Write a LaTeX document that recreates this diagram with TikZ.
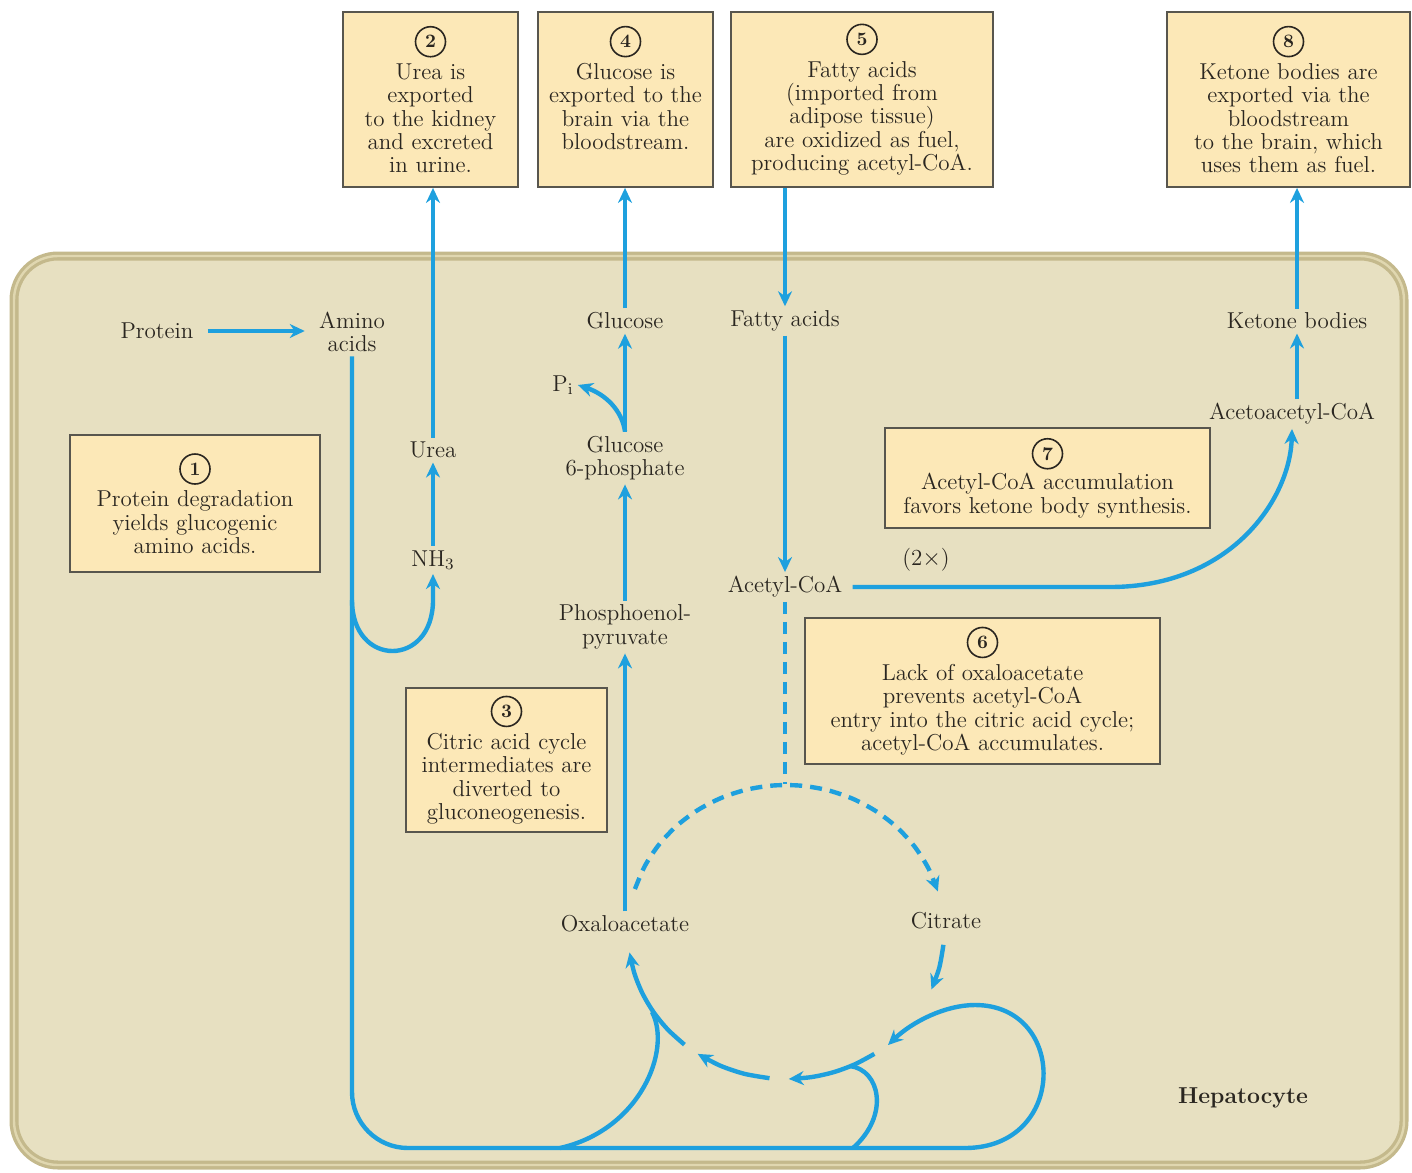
\documentclass[tikz,border=0pt]{standalone}
\usepackage{amsmath}
\usetikzlibrary{positioning}
\usetikzlibrary{calc}
\usetikzlibrary{arrows.meta}

\definecolor{flowblue}{RGB}{30,160,222}
\definecolor{cellfill}{RGB}{231,224,193}
\definecolor{cellrim}{RGB}{196,185,140}
\definecolor{cellrimlight}{RGB}{224,215,176}
\definecolor{notefill}{RGB}{252,232,183}
\definecolor{notedraw}{RGB}{88,86,78}
\definecolor{inktext}{RGB}{42,38,32}

\newcommand{\labelfont}{\fontsize{11.5}{11.7}\selectfont}
\newcommand{\stepnum}[1]{\tikz[baseline=(n.base)]\node[circle, draw=inktext, fill=none, line width=0.8pt, inner sep=0pt, minimum size=15pt, text width={}, font=\fontsize{9.5}{9.5}\selectfont\bfseries] (n) {#1};}

\tikzset{
  flow/.style={draw=flowblue, line width=2.2pt, -{Stealth[length=7.5pt, width=7pt]}},
  link/.style={draw=flowblue, line width=2.2pt},
  cycledash/.style={dash pattern=on 6pt off 4pt},
  lbl/.style={text=inktext, font=\labelfont, align=center, inner sep=2pt},
  note/.style={draw=notedraw, fill=notefill, line width=0.9pt, text=inktext, font=\labelfont, align=center, inner sep=2pt},
}

\begin{document}
\begin{tikzpicture}[x=0.5pt, y=-0.5pt]
  \useasboundingbox (0,0) rectangle (1412,1172);

  % the cell
  \draw[cellrim, line width=4.5pt, fill=cellfill, rounded corners=22pt] (14,256) rectangle (1404,1165);
  \draw[cellrimlight, line width=1.2pt, rounded corners=22pt] (14,256) rectangle (1404,1165);

  % metabolites
  \node[lbl] (protein) at (157,331) {Protein};
  \node[lbl] (amino_acids) at (352,332) {Amino\\acids};
  \node[lbl] (urea) at (433,450) {Urea};
  \node[lbl] (nh_3) at (433,560) {NH$_3$};
  \node[lbl] (glucose) at (625,321) {Glucose};
  \node[lbl] (p_i) at (563,385) {P$_\mathrm{i}$};
  \node[lbl] (glucose_6p) at (625,458) {Glucose\\6-phosphate};
  \node[lbl] (pep) at (625,627) {Phosphoenol-\\pyruvate};
  \node[lbl] (oxaloacetate) at (625,924) {Oxaloacetate};
  \node[lbl] (citrate) at (946,921) {Citrate};
  \node[lbl] (fatty_acids) at (785,321) {Fatty acids};
  \node[lbl] (acetyl_coa) at (785,587) {Acetyl-CoA};
  \node[lbl] (two_x) at (926,560) {(2$\times$)};
  \node[lbl] (acetoacetyl_coa) at (1292,414) {Acetoacetyl-CoA};
  \node[lbl] (ketone_bodies) at (1297,321) {Ketone bodies};
  \node[lbl, font=\labelfont\bfseries] (hepatocyte) at (1243,1098) {Hepatocyte};

  % notes
  \node[note, text width=121pt, minimum height=68.5pt] (box_1) at (195,503.5) {\stepnum{1}\\[2pt]Protein degradation\\yields glucogenic\\amino acids.};
  \node[note, text width=83.5pt, minimum height=87.5pt] (box_2) at (430.5,99.5) {\stepnum{2}\\[2pt]Urea is\\exported\\to the kidney\\and excreted\\in urine.};
  \node[note, text width=83.5pt, minimum height=87.5pt] (box_4) at (625.5,99.5) {\stepnum{4}\\[2pt]Glucose is\\exported to the\\brain via the\\bloodstream.\\\mbox{}};
  \node[note, text width=127pt, minimum height=87.5pt] (box_5) at (862,99.5) {\stepnum{5}\\[2pt]Fatty acids\\(imported from\\adipose tissue)\\are oxidized as fuel,\\producing acetyl-CoA.};
  \node[note, text width=117.5pt, minimum height=87.5pt] (box_8) at (1288.5,99.5) {\stepnum{8}\\[2pt]Ketone bodies are\\exported via the\\bloodstream\\to the brain, which\\uses them as fuel.};
  \node[note, text width=158.5pt, minimum height=50pt] (box_7) at (1047.5,478) {\stepnum{7}\\[1pt]Acetyl-CoA accumulation\\favors ketone body synthesis.};
  \node[note, text width=96.5pt, minimum height=72pt] (box_3) at (506.5,760) {\stepnum{3}\\[2pt]Citric acid cycle\\intermediates are\\diverted to\\gluconeogenesis.};
  \node[note, text width=173.5pt, minimum height=73pt] (box_6) at (982.5,691) {\stepnum{6}\\[2pt]Lack of oxaloacetate\\prevents acetyl-CoA\\entry into the citric acid cycle;\\acetyl-CoA accumulates.};

  \coordinate (aa_fork) at (352,600);
  \coordinate (bottom_left) at (352,1148);
  \coordinate (bottom_right) at (965,1148);
  \coordinate (oxa_fork) at (560,1148);
  \coordinate (mid_fork) at (853,1148);
  \coordinate (cycle_top) at (785,784);

  % protein and urea
  \draw[flow, shorten <=5pt, shorten >=5pt] (protein.east) -- (protein.east -| amino_acids.west);
  \draw[link, rounded corners=28pt] (amino_acids.south) -- (bottom_left) -- (bottom_right);
  \draw[flow] (aa_fork) .. controls (352,668) and (433,668) .. (433,600) -- (nh_3);
  \draw[flow] (nh_3) -- (urea);
  \draw[flow] (urea) -- (urea |- box_2.south);

  % gluconeogenesis
  \draw[flow] (oxaloacetate) -- (pep);
  \draw[flow] (pep) -- (glucose_6p);
  \draw[flow] (glucose_6p) -- (glucose);
  \draw[flow] (glucose_6p.north) .. controls (622,410) and (605,394) .. (p_i.east);
  \draw[flow] (glucose) -- (glucose |- box_4.south);

  % fatty acids and ketone bodies
  \draw[flow] (box_5.south -| fatty_acids) -- (fatty_acids);
  \draw[flow] (fatty_acids) -- (acetyl_coa);
  \draw[link, cycledash] (acetyl_coa) -- (cycle_top);
  \draw[flow, shorten <=3pt] (acetyl_coa.east) -- (1110,587) .. controls (1230,587) and (1290,500) .. (acetoacetyl_coa.south);
  \draw[flow] (acetoacetyl_coa.north -| ketone_bodies) -- (ketone_bodies);
  \draw[flow] (ketone_bodies) -- (ketone_bodies |- box_8.south);

  % citric acid cycle
  \draw[flow, cycledash] plot[smooth, domain=197:344, samples=16, variable=\t] ({786+158*cos(\t)}, {932+147*sin(\t)});
  \draw[flow] plot[smooth, domain=5:23, samples=3, variable=\t] ({786+158*cos(\t)}, {932+147*sin(\t)});
  \draw[flow] plot[smooth, domain=56:89, samples=5, variable=\t] ({786+158*cos(\t)}, {932+147*sin(\t)});
  \draw[flow] plot[smooth, domain=96:124, samples=4, variable=\t] ({786+158*cos(\t)}, {932+147*sin(\t)});
  \draw[flow] plot[smooth, domain=130:172, samples=6, variable=\t] ({786+158*cos(\t)}, {932+147*sin(\t)});
  \draw[flow] (bottom_right) .. controls (1068,1148) and (1068,1005) .. (975,1005) .. controls (945,1005) and (912,1022) .. (888,1045);
  \draw[link] (oxa_fork) .. controls (640,1130) and (672,1050) .. (652,1012);
  \draw[link] (mid_fork) .. controls (890,1115) and (880,1070) .. (850,1066);
\end{tikzpicture}
\end{document}
